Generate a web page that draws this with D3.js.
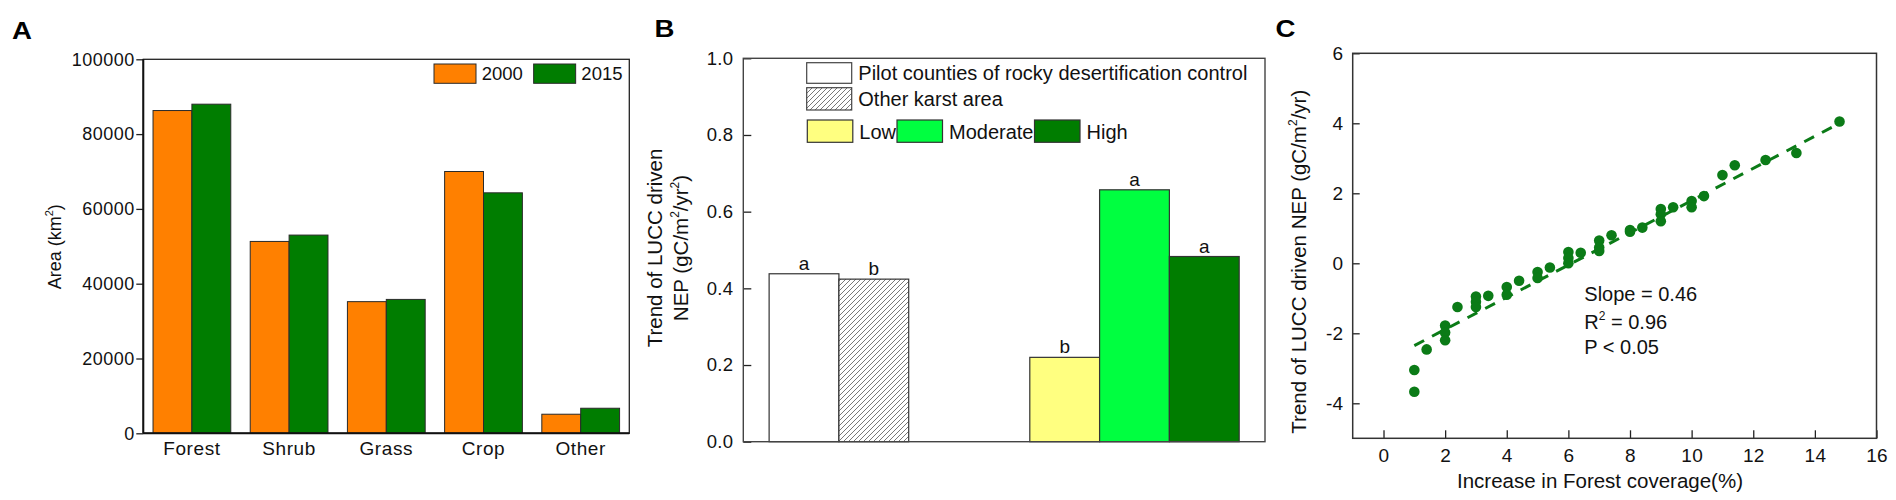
<!DOCTYPE html>
<html><head><meta charset="utf-8">
<script src="https://cdn.jsdelivr.net/npm/d3@7"></script>
<style>
body{margin:0;background:#fff}
svg{display:block;font-family:"Liberation Sans",Arial,sans-serif}
</style>
</head><body>
<svg id="chart" width="1896" height="500"></svg>
<script>
// ---------------- data ----------------
const aCategories = ["Forest", "Shrub", "Grass", "Crop", "Other"];
const aYears = ["2000", "2015"];
const aValues2000 = [86300, 51300, 35200, 70000, 5100];
const aValues2015 = [88000, 53000, 35800, 64300, 6700];
const aTicks = [0, 20000, 40000, 60000, 80000, 100000];

const bCategories = ["Pilot counties of rocky desertification control", "Other karst area", "Low", "Moderate", "High"];
const bValues = [0.438, 0.424, 0.220, 0.657, 0.483];
const bLetters = ["a", "b", "b", "a", "a"];
const bGroups = [0, 0, 1, 1, 1];
const bTicks = [0, 0.2, 0.4, 0.6, 0.8, 1.0];

const cX = [1, 1, 1.4, 2, 2, 2, 2.4, 3, 3, 3, 3.4, 4, 4, 4.4, 5, 5, 5.4, 6, 6, 6, 6.4, 7, 7, 7, 7.4, 8, 8, 8.4, 9, 9, 9, 9.4, 10, 10, 10.4, 11, 11.4, 12.4, 13.4, 14.8];
const cY = [-3.05, -3.67, -2.46, -1.78, -1.98, -2.2, -1.25, -0.95, -1.1, -1.25, -0.93, -0.68, -0.9, -0.5, -0.25, -0.42, -0.12, 0.32, 0.15, 0.0, 0.3, 0.65, 0.45, 0.35, 0.8, 0.9, 0.95, 1.02, 1.55, 1.4, 1.2, 1.6, 1.78, 1.6, 1.92, 2.52, 2.8, 2.95, 3.15, 4.05];
const cFitX = [1, 14.8];
const cFitY = [-2.35, 4.0];
const cXTicks = [0, 2, 4, 6, 8, 10, 12, 14, 16];
const cYTicks = [-4, -2, 0, 2, 4, 6];

// ---------------- helpers ----------------
const svg = d3.select("#chart");
const FONT = '"Liberation Sans",Arial,sans-serif';
const defs = svg.append("defs");
const hatch = defs.append("pattern").attr("id", "hatch")
  .attr("patternUnits", "userSpaceOnUse").attr("width", 5).attr("height", 5);
hatch.append("rect").attr("width", 5).attr("height", 5).attr("fill", "#fff");
hatch.append("path").attr("d", "M-1,1 l2,-2 M0,5 l5,-5 M4,6 l2,-2")
  .attr("stroke", "#555").attr("stroke-width", 0.8);

function styleAxis(g, size, ls) {
  g.attr("font-family", FONT).attr("font-size", size);
  g.select(".domain").remove();
  g.selectAll("line").attr("stroke", "#222").attr("stroke-width", 1.3);
  g.selectAll("text").attr("fill", "#111").attr("letter-spacing", ls || 0);
}
function panelLabel(txt, x, y) {
  svg.append("text").attr("transform", `translate(${x},${y}) scale(1.15,1)`)
    .attr("font-size", 24).attr("font-weight", "bold").attr("fill", "#000").text(txt);
}

// ---------------- Panel A ----------------
const A = {l: 143.3, r: 629.3, t: 59.3, b: 433.3};
const ay = d3.scaleLinear().domain([0, 100000]).range([A.b, A.t]);
const ax = d3.scaleBand().domain(aCategories).range([A.l, A.r]);
const ax1 = d3.scaleBand().domain(aYears).range([0, ax.bandwidth()]).paddingInner(0).paddingOuter(0.25);
const aColors = {"2000": "#ff8000", "2015": "#007d00"};
const aRows = [];
aCategories.forEach((c, i) => {
  aRows.push({c, y: "2000", v: aValues2000[i]});
  aRows.push({c, y: "2015", v: aValues2015[i]});
});
svg.append("g").selectAll("rect").data(aRows).join("rect")
  .attr("x", d => ax(d.c) + ax1(d.y))
  .attr("y", d => ay(d.v))
  .attr("width", ax1.bandwidth())
  .attr("height", d => ay(0) - ay(d.v))
  .attr("fill", d => aColors[d.y])
  .attr("stroke", "#2a2a2a").attr("stroke-width", 1);

const gAy = svg.append("g").attr("transform", `translate(${A.l},0)`)
  .call(d3.axisLeft(ay).tickValues(aTicks).tickSize(7).tickPadding(1.5).tickFormat(d => String(d)));
styleAxis(gAy, 18, 0.5);
const gAx = svg.append("g").attr("transform", `translate(0,${A.b})`)
  .call(d3.axisBottom(ax).tickSize(0).tickPadding(8.5));
styleAxis(gAx, 19, 0.6);

svg.append("rect").attr("x", A.l).attr("y", A.t).attr("width", A.r - A.l).attr("height", A.b - A.t)
  .attr("fill", "none").attr("stroke", "#222").attr("stroke-width", 1.3);
svg.append("line").attr("x1", A.l).attr("x2", A.l).attr("y1", A.t).attr("y2", A.b).attr("stroke", "#111").attr("stroke-width", 2);
svg.append("line").attr("x1", A.l).attr("x2", A.r).attr("y1", A.b).attr("y2", A.b).attr("stroke", "#111").attr("stroke-width", 2);

// legend A
const aLeg = svg.append("g").attr("font-family", FONT).attr("font-size", 18.5);
const aLegX = d3.scaleBand().domain(aYears).range([434, 633.3]);
aYears.forEach(y => {
  aLeg.append("rect").attr("x", aLegX(y)).attr("y", 64).attr("width", 42).attr("height", 19.3)
    .attr("fill", aColors[y]).attr("stroke", "#2a2a2a").attr("stroke-width", 1);
  aLeg.append("text").attr("x", aLegX(y) + 47.7).attr("y", 80.4).attr("fill", "#111").text(y);
});

// y title A
const aT = svg.append("text").attr("transform", "translate(61,246.7) rotate(-90)")
  .attr("text-anchor", "middle").attr("font-size", 18).attr("fill", "#111");
aT.append("tspan").text("Area (km");
aT.append("tspan").attr("font-size", 11).attr("dy", -8).text("2");
aT.append("tspan").attr("dy", 8).text(")");
panelLabel("A", 12, 39.3);

// ---------------- Panel B ----------------
const B = {l: 743.3, r: 1265, t: 58.3, b: 441.7};
const by = d3.scaleLinear().domain([0, 1]).range([B.b, B.t]);
const bMargin = 0.37, bGap = 1.735;
const bx = d3.scaleLinear().domain([0, 2 * bMargin + bCategories.length + bGap]).range([B.l, B.r]);
const bSlot = (i) => bMargin + i + (bGroups[i] === 1 ? bGap : 0);
const bFills = ["#ffffff", "url(#hatch)", "#ffff80", "#00ff40", "#007d00"];
const bw = bx(1) - bx(0);
svg.append("g").selectAll("rect").data(bValues).join("rect")
  .attr("x", (d, i) => bx(bSlot(i)))
  .attr("y", d => by(d))
  .attr("width", bw)
  .attr("height", d => by(0) - by(d))
  .attr("fill", (d, i) => bFills[i])
  .attr("stroke", "#333").attr("stroke-width", 1.2);
svg.append("g").selectAll("text").data(bValues).join("text")
  .attr("x", (d, i) => bx(bSlot(i)) + bw / 2)
  .attr("y", d => by(d) - 4)
  .attr("text-anchor", "middle").attr("font-family", FONT).attr("font-size", 19).attr("fill", "#111")
  .text((d, i) => bLetters[i]);

const gBy = svg.append("g").attr("transform", `translate(${B.l},0)`)
  .call(d3.axisLeft(by).tickValues(bTicks).tickSize(-8).tickPadding(10).tickFormat(d3.format(".1f")));
styleAxis(gBy, 18.5, 0.3);
svg.append("rect").attr("x", B.l).attr("y", B.t).attr("width", B.r - B.l).attr("height", B.b - B.t)
  .attr("fill", "none").attr("stroke", "#444").attr("stroke-width", 1.4);

// legend B
const bLeg = svg.append("g").attr("font-family", FONT).attr("font-size", 20).attr("fill", "#111");
bLeg.append("rect").attr("x", 806.7).attr("y", 62.7).attr("width", 45).attr("height", 20.6)
  .attr("fill", bFills[0]).attr("stroke", "#444").attr("stroke-width", 1.2);
bLeg.append("text").attr("x", 858.3).attr("y", 80).text(bCategories[0]);
bLeg.append("rect").attr("x", 806.7).attr("y", 87.7).attr("width", 45).attr("height", 22.3)
  .attr("fill", bFills[1]).attr("stroke", "#444").attr("stroke-width", 1.2);
bLeg.append("text").attr("x", 858.3).attr("y", 106).text(bCategories[1]);
let lx = 807.3;
[2, 3, 4].forEach(i => {
  bLeg.append("rect").attr("x", lx).attr("y", 120).attr("width", 45.5).attr("height", 22.3)
    .attr("fill", bFills[i]).attr("stroke", "#333").attr("stroke-width", 1.2);
  const t = bLeg.append("text").attr("x", lx + 52).attr("y", 138.5).text(bCategories[i]);
  lx = lx + 52 + t.node().getComputedTextLength() + 1;
});
// raise boxes over preceding text end
bLeg.selectAll("rect").raise();

// y title B
const bT = svg.append("g").attr("font-family", FONT).attr("font-size", 20.5).attr("fill", "#111");
bT.append("text").attr("transform", "translate(661.5,248) rotate(-90)").attr("text-anchor", "middle")
  .text("Trend of LUCC driven");
const bT2 = bT.append("text").attr("transform", "translate(687.5,248) rotate(-90)").attr("text-anchor", "middle");
bT2.append("tspan").text("NEP (gC/m");
bT2.append("tspan").attr("font-size", 12).attr("dy", -9).text("2");
bT2.append("tspan").attr("dy", 9).text("/yr");
bT2.append("tspan").attr("font-size", 12).attr("dy", -9).text("2");
bT2.append("tspan").attr("dy", 9).text(")");
panelLabel("B", 654.5, 37.3);

// ---------------- Panel C ----------------
const C = {l: 1352.7, r: 1876.5, t: 53.3, b: 438.3};
const cx = d3.scaleLinear().domain([-1, 16]).range([C.l, C.r]);
const cy = d3.scaleLinear().domain([-5, 6]).range([C.b, C.t]);
const green = "#0b7b17";

const gCx = svg.append("g").attr("transform", `translate(0,${C.b})`)
  .call(d3.axisBottom(cx).tickValues(cXTicks).tickSize(-8).tickPadding(10).tickFormat(d => String(d)));
styleAxis(gCx, 19, 0.2);
const gCy = svg.append("g").attr("transform", `translate(${C.l},0)`)
  .call(d3.axisLeft(cy).tickValues(cYTicks).tickSize(-7).tickPadding(9.5).tickFormat(d => String(d)));
styleAxis(gCy, 19, 0.2);
svg.append("rect").attr("x", C.l).attr("y", C.t).attr("width", C.r - C.l).attr("height", C.b - C.t)
  .attr("fill", "none").attr("stroke", "#333").attr("stroke-width", 1.5);

const fitPts = cFitX.map((x, i) => [x, cFitY[i]]);
svg.append("path").attr("d", d3.line().x(d => cx(d[0])).y(d => cy(d[1]))(fitPts))
  .attr("fill", "none").attr("stroke", green).attr("stroke-width", 3).attr("stroke-dasharray", "11,9");
svg.append("g").selectAll("circle").data(cX).join("circle")
  .attr("cx", d => cx(d)).attr("cy", (d, i) => cy(cY[i])).attr("r", 5.3).attr("fill", green);

const cs = svg.append("g").attr("font-family", FONT).attr("font-size", 20).attr("fill", "#111");
cs.append("text").attr("x", 1584.3).attr("y", 300.6).text("Slope = 0.46");
const r2 = cs.append("text").attr("x", 1584.3).attr("y", 329);
r2.append("tspan").text("R");
r2.append("tspan").attr("font-size", 12).attr("dy", -9).text("2");
r2.append("tspan").attr("dy", 9).text(" = 0.96");
cs.append("text").attr("x", 1584.3).attr("y", 354).text("P < 0.05");

const cT = svg.append("text").attr("transform", "translate(1305.7,261.7) rotate(-90)")
  .attr("text-anchor", "middle").attr("font-family", FONT).attr("font-size", 20.5).attr("fill", "#111");
cT.append("tspan").text("Trend of LUCC driven NEP (gC/m");
cT.append("tspan").attr("font-size", 12).attr("dy", -9).text("2");
cT.append("tspan").attr("dy", 9).text("/yr)");
svg.append("text").attr("x", 1600).attr("y", 488).attr("text-anchor", "middle")
  .attr("font-family", FONT).attr("font-size", 20.5).attr("fill", "#111").text("Increase in Forest coverage(%)");
panelLabel("C", 1275.5, 37.3);
</script>
</body></html>
